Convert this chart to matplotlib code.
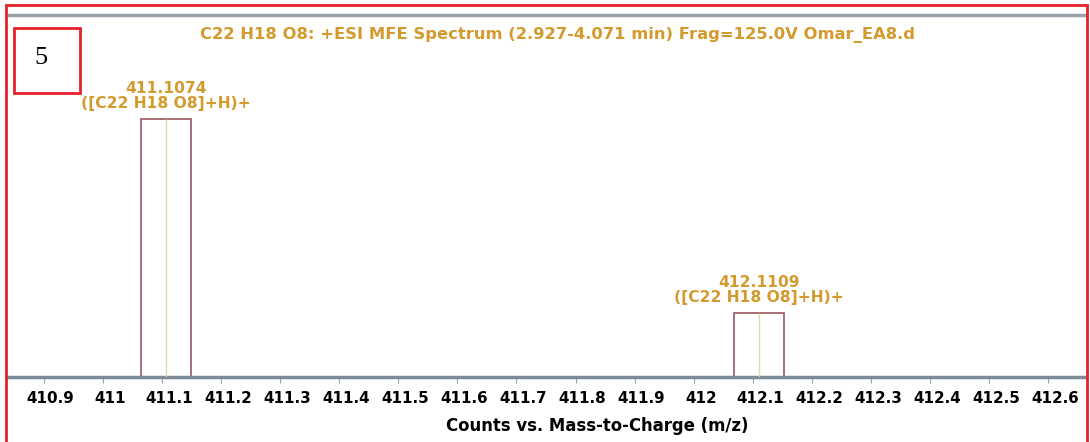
import matplotlib.pyplot as plt
from matplotlib.patches import Rectangle
from matplotlib.transforms import ScaledTranslation

# peak data (relative abundance)
mz = [411.1074, 412.1109]
abundance = [100.0, 24.8]
peak_names = ["([C22 H18 O8]+H)+", "([C22 H18 O8]+H)+"]
tick_values = [410.9, 411.0, 411.1, 411.2, 411.3, 411.4, 411.5, 411.6, 411.7,
               411.8, 411.9, 412.0, 412.1, 412.2, 412.3, 412.4, 412.5, 412.6]
tick_labels = ["410.9", "411", "411.1", "411.2", "411.3", "411.4", "411.5", "411.6", "411.7",
               "411.8", "411.9", "412", "412.1", "412.2", "412.3", "412.4", "412.5", "412.6"]
title = "C22 H18 O8: +ESI MFE Spectrum (2.927-4.071 min) Frag=125.0V Omar_EA8.d"
xlabel = "Counts vs. Mass-to-Charge (m/z)"

W, H = 1090, 442
gold = "#d49a2e"

fig = plt.figure(figsize=(W / 100, H / 100), dpi=100)
fig.patch.set_facecolor("white")

# axes: x line at y=377 px, top grey line at y=15 px
ax = fig.add_axes([7 / W, (H - 377) / H, (1085 - 7) / W, (377 - 15) / H])
ax.set_xlim(410.838, 412.662)
ax.set_ylim(0, 100 * 362 / 258)

ax.bar(mz, abundance, width=0.085, facecolor="white", edgecolor="#a0626a", linewidth=1.3, zorder=2)
ax.vlines(mz, 0, abundance, color="#e4d9ad", linewidth=1.0, zorder=3)

for x, y, name in zip(mz, abundance, peak_names):
    ax.annotate(f"{x:.4f}\n{name}", (x, y), xytext=(0, 6), textcoords="offset points",
                ha="center", va="bottom", color=gold, fontsize=11.2, fontweight="bold",
                linespacing=1.0)

for side in ["left", "right"]:
    ax.spines[side].set_visible(False)
ax.spines["bottom"].set_color("#7d8a97")
ax.spines["bottom"].set_linewidth(2.5)
ax.spines["top"].set_color("#9aa2ab")
ax.spines["top"].set_linewidth(2.5)

ax.set_yticks([])
ax.set_xticks(tick_values)
ax.set_xticklabels(tick_labels, fontsize=10.9, fontweight="bold")
ax.tick_params(axis="x", length=4, color="#9aa2ab", pad=6)
# labels in the original sit a few pixels right of their ticks
shift = ScaledTranslation(7 / 100, 0, fig.dpi_scale_trans)
for lab in ax.get_xticklabels():
    lab.set_transform(lab.get_transform() + shift)
ax.set_xlabel(xlabel, fontsize=11.9, fontweight="bold", labelpad=7)
ax.xaxis.set_label_coords((597 - 7) / (1085 - 7), -(426 - 377) / (377 - 15))
ax.xaxis.label.set_va("center")

fig.text(557 / W, 1 - 35 / H, title, ha="center", va="center", color=gold,
         fontsize=11.8, fontweight="bold")

# red frame around the panel and the panel number box
fig.patches.append(Rectangle((6 / W, -0.02), (1087 - 6) / W, (H - 5) / H + 0.02,
                             transform=fig.transFigure, fill=False, edgecolor="#e8202a", linewidth=2))
fig.patches.append(Rectangle((14 / W, 1 - 93 / H), 66 / W, 65 / H, transform=fig.transFigure,
                             fill=False, edgecolor="#e8202a", linewidth=2))
fig.text(41 / W, 1 - 58 / H, "5", ha="center", va="center", fontsize=19,
         family="Liberation Serif")

fig.savefig("out.png", dpi=100)
